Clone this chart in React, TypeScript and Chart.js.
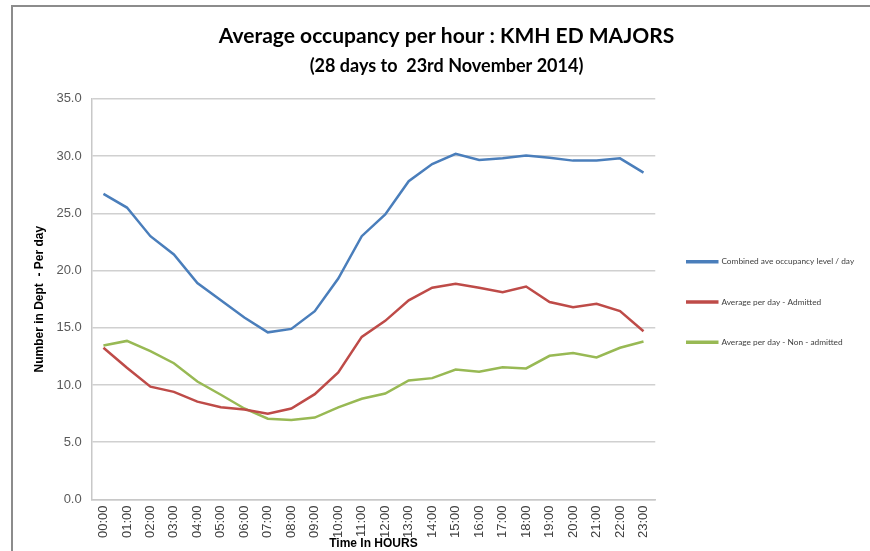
import React, { useEffect, useRef } from "react";
import { Chart, registerables } from "chart.js";

Chart.register(...registerables);

const hours = [
  "00:00", "01:00", "02:00", "03:00", "04:00", "05:00", "06:00", "07:00",
  "08:00", "09:00", "10:00", "11:00", "12:00", "13:00", "14:00", "15:00",
  "16:00", "17:00", "18:00", "19:00", "20:00", "21:00", "22:00", "23:00",
];

const combined = [
  26.7, 25.5, 23.0, 21.4, 18.9, 17.4, 15.9, 14.6, 14.9, 16.45, 19.3, 23.0,
  24.9, 27.8, 29.3, 30.2, 29.65, 29.8, 30.05, 29.85, 29.6, 29.6, 29.8, 28.55,
];

const admitted = [
  13.25, 11.5, 9.85, 9.4, 8.55, 8.05, 7.85, 7.5, 7.95, 9.2, 11.1, 14.2,
  15.6, 17.4, 18.5, 18.85, 18.5, 18.1, 18.6, 17.25, 16.8, 17.1, 16.45, 14.7,
];

const nonAdmitted = [
  13.45, 13.85, 12.95, 11.9, 10.3, 9.15, 7.95, 7.05, 6.95, 7.15, 8.05, 8.8,
  9.25, 10.4, 10.6, 11.35, 11.15, 11.55, 11.45, 12.55, 12.8, 12.4, 13.25, 13.8,
];

const seriesNames = [
  "Combined ave occupancy level / day",
  "Average per day - Admitted",
  "Average per day - Non - admitted",
];
const seriesColors = ["#4a7ebb", "#be4b48", "#98b954"];

const TITLE = "Average occupancy per hour : KMH ED MAJORS";
const SUBTITLE = "(28 days to  23rd November 2014)";
const Y_TITLE = "Number in Dept  - Per day";
const X_TITLE = "Time In HOURS";

const Y_MIN = 0;
const Y_MAX = 35;
const Y_STEP = 5;

const TITLE_FONT = 'Lato, "Liberation Sans", sans-serif';
const BODY_FONT = '"Liberation Sans", Arial, sans-serif';

const xTitlePlugin = {
  id: "xTitleOverlay",
  afterDraw(chart: any) {
    const { ctx, chartArea } = chart;
    ctx.save();
    ctx.font = `bold 12px ${BODY_FONT}`;
    ctx.fillStyle = "#000000";
    ctx.textAlign = "center";
    ctx.textBaseline = "middle";
    ctx.fillText(X_TITLE, (chartArea.left + chartArea.right) / 2, chart.height - 7);
    ctx.restore();
  },
};

export default function App() {
  const ref = useRef<HTMLCanvasElement>(null);

  useEffect(() => {
    document.body.style.margin = "0";
    const canvas = ref.current;
    if (!canvas) return;
    const data = [combined, admitted, nonAdmitted];
    const chart = new Chart(canvas, {
      type: "line",
      data: {
        labels: hours,
        datasets: data.map((d, i) => ({
          label: seriesNames[i],
          data: d,
          borderColor: seriesColors[i],
          backgroundColor: seriesColors[i],
          borderWidth: 2.5,
          pointRadius: 0,
          pointHoverRadius: 0,
          tension: 0,
          fill: false,
        })),
      },
      plugins: [xTitlePlugin],
      options: {
        animation: false,
        responsive: false,
        devicePixelRatio: 1,
        layout: { padding: { left: 29, right: 6, top: 0, bottom: 7 } },
        plugins: {
          title: {
            display: true,
            text: TITLE,
            color: "#000000",
            font: { family: TITLE_FONT, size: 21, weight: "bold" },
            padding: { top: 24, bottom: 6 },
          },
          subtitle: {
            display: true,
            text: SUBTITLE,
            color: "#000000",
            font: { family: TITLE_FONT, size: 18, weight: "bold" },
            padding: { top: 0, bottom: 22 },
          },
          legend: {
            position: "right",
            align: "center",
            title: {
              display: true,
              text: "",
              font: { family: TITLE_FONT, size: 10 },
              padding: { top: 24, bottom: 24 },
            },
            labels: {
              boxWidth: 30,
              boxHeight: 1,
              padding: 32,
              color: "#404040",
              font: { family: TITLE_FONT, size: 8.3 },
            },
          },
          tooltip: { enabled: false },
        },
        scales: {
          x: {
            offset: true,
            grid: { display: false, drawTicks: false },
            border: { display: true, color: "#c8c8c8", width: 1.5 },
            ticks: {
              autoSkip: false,
              minRotation: 90,
              maxRotation: 90,
              padding: 6,
              color: "#404040",
              font: { family: BODY_FONT, size: 13 },
            },
          },
          y: {
            min: Y_MIN,
            max: Y_MAX,
            grid: { color: "#d0d0d0", lineWidth: 1.5, drawTicks: false },
            border: { display: true, color: "#c8c8c8", width: 1.5 },
            ticks: {
              stepSize: Y_STEP,
              padding: 10,
              color: "#595959",
              font: { family: BODY_FONT, size: 13 },
              callback: (v: any) => Number(v).toFixed(1),
            },
            title: {
              display: true,
              text: Y_TITLE,
              color: "#000000",
              font: { family: BODY_FONT, size: 12, weight: "bold" },
              padding: { top: 3, bottom: 0 },
            },
          },
        },
      },
    });
    return () => chart.destroy();
  }, []);

  return (
    <div
      style={{
        position: "relative",
        width: 870,
        height: 551,
        overflow: "hidden",
        background: "#ffffff",
      }}
    >
      <div
        style={{
          position: "absolute",
          left: 11,
          top: 5,
          width: 900,
          height: 600,
          borderLeft: "2px solid #8c8c8c",
          borderTop: "2px solid #8c8c8c",
        }}
      />
      <canvas
        ref={ref}
        width={870}
        height={551}
        style={{ position: "absolute", left: 0, top: 0, width: 870, height: 551 }}
      />
    </div>
  );
}
